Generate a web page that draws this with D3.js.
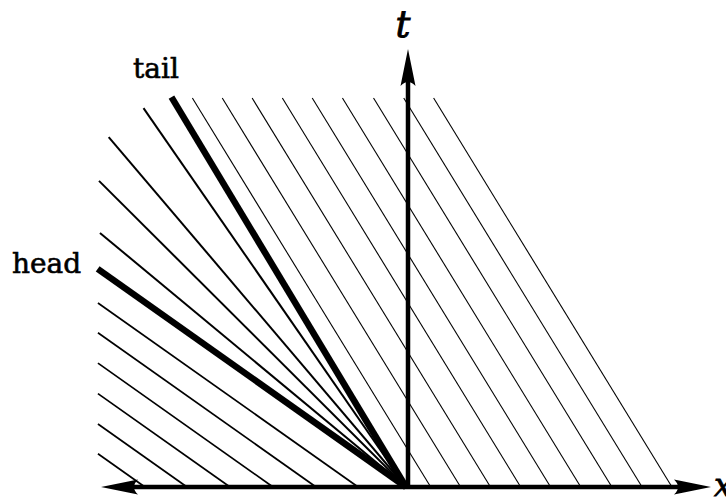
<!DOCTYPE html>
<html>
<head>
<meta charset="utf-8">
<script src="https://cdn.jsdelivr.net/npm/d3@7"></script>
<style>
  html, body { margin: 0; padding: 0; background: #fff; }
  svg { display: block; }
</style>
</head>
<body>
<svg id="chart" width="726" height="501"></svg>
<script>
// Characteristics of a rarefaction wave in the (x, t) plane.

// Feet (x at t = 0) of the left-state characteristics
const leftFeet = [-8.56, -7.18, -5.77, -4.36, -2.95, -1.57];
// Feet (x at t = 0) of the right-state characteristics
const rightFeet = [0.81, 1.79, 2.77, 3.76, 4.74, 5.73, 6.75, 7.74, 8.72];
// Characteristic speeds dx/dt
const leftSpeed = -2.03;
const rightSpeed = -0.88;
// Rays of the fan from the origin: speed and the time where each ray stops
const fanSpeeds = [-2.03, -1.73, -1.44, -1.22, -0.995, -0.864];
const fanEndT   = [4.98, 5.80, 6.99, 7.99, 8.65, 8.90];
const fanLabels = ["head", "", "", "", "", "tail"];
// Window of the drawing
const xLeft = -10.1, tTop = 8.88;
const xDomain = [-10, 10], tDomain = [0, 10];

const svg = d3.select("#chart");
const x = d3.scaleLinear().domain(xDomain).range([101, 711]);
const t = d3.scaleLinear().domain(tDomain).range([487, 49]);

const g = svg.append("g");

// Left-state characteristics: from the x-axis up to the left edge
g.selectAll("line.left").data(leftFeet).join("line")
  .attr("class", "left")
  .attr("x1", d => x(d)).attr("y1", t(0))
  .attr("x2", d => x(xLeft))
  .attr("y2", d => t((xLeft - d) / leftSpeed))
  .attr("stroke", "#000").attr("stroke-width", 1.7);

// Right-state characteristics: from the x-axis up to the top edge
g.selectAll("line.right").data(rightFeet).join("line")
  .attr("class", "right")
  .attr("x1", d => x(d)).attr("y1", t(0))
  .attr("x2", d => x(d + rightSpeed * tTop))
  .attr("y2", t(tTop))
  .attr("stroke", "#000").attr("stroke-width", 1.1);

// Fan rays; head and tail drawn heavy
const fan = fanSpeeds.map((s, i) => ({ s, te: fanEndT[i], label: fanLabels[i] }));
g.selectAll("line.fan").data(fan).join("line")
  .attr("class", "fan")
  .attr("x1", x(0)).attr("y1", t(0))
  .attr("x2", d => x(d.s * d.te)).attr("y2", d => t(d.te))
  .attr("stroke", "#000")
  .attr("stroke-width", d => d.label ? 6.5 : 2)
  .attr("stroke-linecap", "butt");

// Axes with arrowheads
const axisW = 4.5;
function arrowHead(tipX, tipY, angleDeg) {
  const L = 37, W = 7.5, N = 29;
  const p = `M0,0 L${-L},${-W} Q${-N},0 ${-L},${W} Z`;
  g.append("path")
    .attr("d", p)
    .attr("transform", `translate(${tipX},${tipY}) rotate(${angleDeg})`)
    .attr("fill", "#000");
}
g.append("line")
  .attr("x1", x(xDomain[0]) + 20).attr("x2", x(xDomain[1]) - 20)
  .attr("y1", t(0)).attr("y2", t(0))
  .attr("stroke", "#000").attr("stroke-width", axisW);
g.append("line")
  .attr("x1", x(0) + 2).attr("x2", x(0) + 2)
  .attr("y1", t(0) + 1).attr("y2", t(tDomain[1]) + 20)
  .attr("stroke", "#000").attr("stroke-width", axisW);
arrowHead(x(xDomain[1]), t(0), 0);
arrowHead(x(xDomain[0]), t(0), 180);
arrowHead(x(0) + 2, t(tDomain[1]), -90);

// Axis labels
const serif = "'DejaVu Serif', 'Liberation Serif', serif";
svg.append("text").text("t")
  .attr("x", x(0) - 3).attr("y", 37)
  .attr("text-anchor", "middle")
  .attr("font-family", serif).attr("font-style", "italic")
  .attr("font-size", 37)
  .attr("stroke", "#000").attr("stroke-width", 0.9);
svg.append("text").text("x")
  .attr("x", 714).attr("y", 496)
  .attr("font-family", serif).attr("font-style", "italic")
  .attr("font-size", 32)
  .attr("stroke", "#000").attr("stroke-width", 0.8);

// Head and tail labels
svg.append("text").text("head")
  .attr("x", 12).attr("y", 273)
  .attr("font-family", serif).attr("font-size", 28)
  .attr("stroke", "#000").attr("stroke-width", 0.6);
svg.append("text").text("tail")
  .attr("x", 133).attr("y", 78)
  .attr("font-family", serif).attr("font-size", 28)
  .attr("stroke", "#000").attr("stroke-width", 0.6);
</script>
</body>
</html>
